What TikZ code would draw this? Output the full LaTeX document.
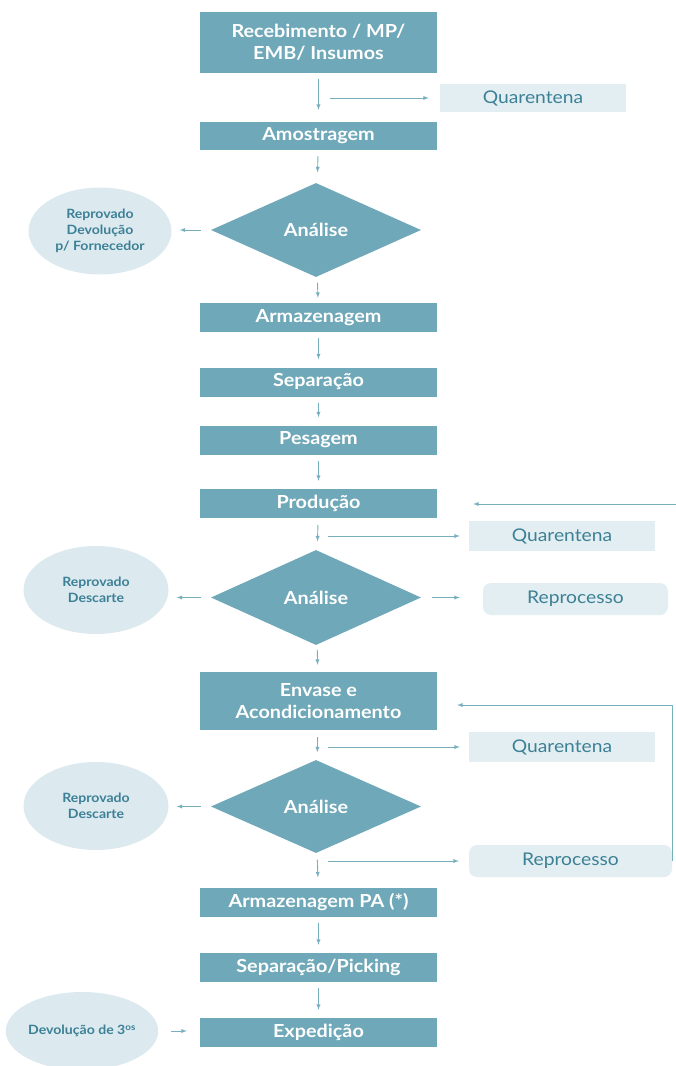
\documentclass[tikz,border=0pt]{standalone}
\usepackage{fontspec}
\setmainfont{Lato}[FakeStretch=1.1]
\usepackage{tikz}
\usetikzlibrary{positioning,shapes.geometric}

\definecolor{tealbox}{HTML}{6FA8B8}
\definecolor{tealclaro}{HTML}{E2EEF2}
\definecolor{elipse}{HTML}{DCEAF0}
\definecolor{tealtexto}{HTML}{3C8095}
\definecolor{seta}{HTML}{77AFBF}

\begin{document}
\begin{tikzpicture}[>=latex,x=1pt,y=-1pt,
        etapa/.style={fill=tealbox,text=white,inner sep=0pt,align=center,minimum width=237pt,minimum height=29pt,font=\fontsize{18}{22}\selectfont\bfseries},
        decisao/.style={diamond,fill=tealbox,text=white,inner sep=0pt,minimum width=210pt,minimum height=94pt,font=\fontsize{18}{22}\selectfont\bfseries},
        espera/.style={fill=tealclaro,text=tealtexto,inner sep=0pt,minimum width=186pt,minimum height=30pt,font=\fontsize{17.5}{20}\selectfont},
        reproc/.style={espera,rounded corners=8pt},
        reprovado/.style={ellipse,fill=elipse,text=tealtexto,inner sep=0pt,align=center,minimum width=143pt,minimum height=87pt,font=\fontsize{12.8}{16}\selectfont\bfseries},
        fluxo/.style={->,draw=seta,line width=0.9pt,shorten <=6pt,shorten >=8pt}]
        \useasboundingbox (0,0) rectangle (676,1066);
        \node[etapa,minimum height=61pt] (receb) at (318.5,42.5) {Recebimento / MP/\\EMB/ Insumos};
        \node[etapa,minimum height=28pt] (amostra) at (318.5,136) {Amostragem};
        \node[decisao] (anal1) at (316,230) {Análise};
        \node[etapa] (armaz) at (318.5,317.5) {Armazenagem};
        \node[etapa] (separa) at (318.5,382) {Separação};
        \node[etapa] (pesa) at (318.5,440) {Pesagem};
        \node[etapa] (prod) at (318.5,503.5) {Produção};
        \node[decisao,minimum height=95pt] (anal2) at (316,597.5) {Análise};
        \node[etapa,minimum height=58pt] (envase) at (318.5,701) {Envase e\\Acondicionamento};
        \node[decisao,minimum height=93pt] (anal3) at (316,806.5) {Análise};
        \node[etapa] (armpa) at (318.5,902) {Armazenagem PA (*)};
        \node[etapa] (picking) at (318.5,967.5) {Separação/Picking};
        \node[etapa] (exped) at (318.5,1032.5) {Expedição};
        \node[espera,minimum height=28pt] (quar1) at (533,98) {Quarentena};
        \node[espera] (quar2) at (562,536) {Quarentena};
        \node[espera] (quar3) at (562,747) {Quarentena};
        \node[reproc,minimum width=185pt,minimum height=32pt] (reproc1) at (575.5,599) {Reprocesso};
        \node[reproc,minimum width=203pt,minimum height=32pt] (reproc2) at (570.5,861) {Reprocesso};
        \node[reprovado] (reprov1) at (100,231) {Reprovado\\Devolução\\p/ Fornecedor};
        \node[reprovado,minimum width=145pt,minimum height=88pt] (reprov2) at (96,590) {Reprovado\\Descarte};
        \node[reprovado,minimum width=145pt,minimum height=88pt] (reprov3) at (96,806) {Reprovado\\Descarte};
        \node[reprovado,minimum width=137pt,minimum height=78pt] (devol) at (82,1031) {Devolução de 3\textsuperscript{os}};
        \coordinate (q1) at (330,98);
        \coordinate (q2) at (328,536);
        \coordinate (q3) at (328,747);
        \coordinate (r2) at (328,861);
        \coordinate (volta) at (676,504);
        \draw[fluxo,shorten >=12pt] (receb) -- (amostra);
        \draw[fluxo,shorten >=11pt] (amostra) -- (anal1);
        \draw[fluxo,shorten >=5pt] (anal1) -- (armaz);
        \draw[fluxo] (armaz) -- (separa);
        \draw[fluxo] (separa) -- (pesa);
        \draw[fluxo] (pesa) -- (prod);
        \draw[fluxo,shorten <=7pt,shorten >=9pt] (prod) -- (anal2);
        \draw[fluxo,shorten <=5pt,shorten >=7pt] (anal2) -- (envase);
        \draw[fluxo,shorten <=7pt] (envase) -- (anal3);
        \draw[fluxo,shorten <=7pt,shorten >=10pt] (anal3) -- (armpa);
        \draw[fluxo] (armpa) -- (picking);
        \draw[fluxo] (picking) -- (exped);
        \draw[fluxo,shorten <=0pt,shorten >=11pt] (q1) -- (q1 -| quar1.west);
        \draw[fluxo,shorten <=0pt,shorten >=9pt] (q2) -- (q2 -| quar2.west);
        \draw[fluxo,shorten <=0pt,shorten >=9pt] (q3) -- (q3 -| quar3.west);
        \draw[fluxo,shorten <=0pt,shorten >=10pt] (r2) -- (r2 -| reproc2.west);
        \draw[fluxo,shorten <=0pt,shorten >=36pt] (volta) -- (prod.east |- volta);
        \draw[fluxo,shorten <=0pt,shorten >=20pt] (reproc2.east) |- ([yshift=-4pt]envase.east);
        \draw[fluxo,shorten <=10pt] (anal1.west) -- (anal1.west -| reprov1.east);
        \draw[fluxo,shorten <=10pt] (anal2.west) -- (anal2.west -| reprov2.east);
        \draw[fluxo,shorten <=10pt] (anal3.west) -- (anal3.west -| reprov3.east);
        \draw[fluxo,shorten <=11pt,shorten >=23pt] (anal2.east) -- (anal2.east -| reproc1.west);
        \draw[fluxo,shorten <=13pt,shorten >=13pt] (devol.east) -- (devol.east -| exped.west);
    \end{tikzpicture}
\end{document}
